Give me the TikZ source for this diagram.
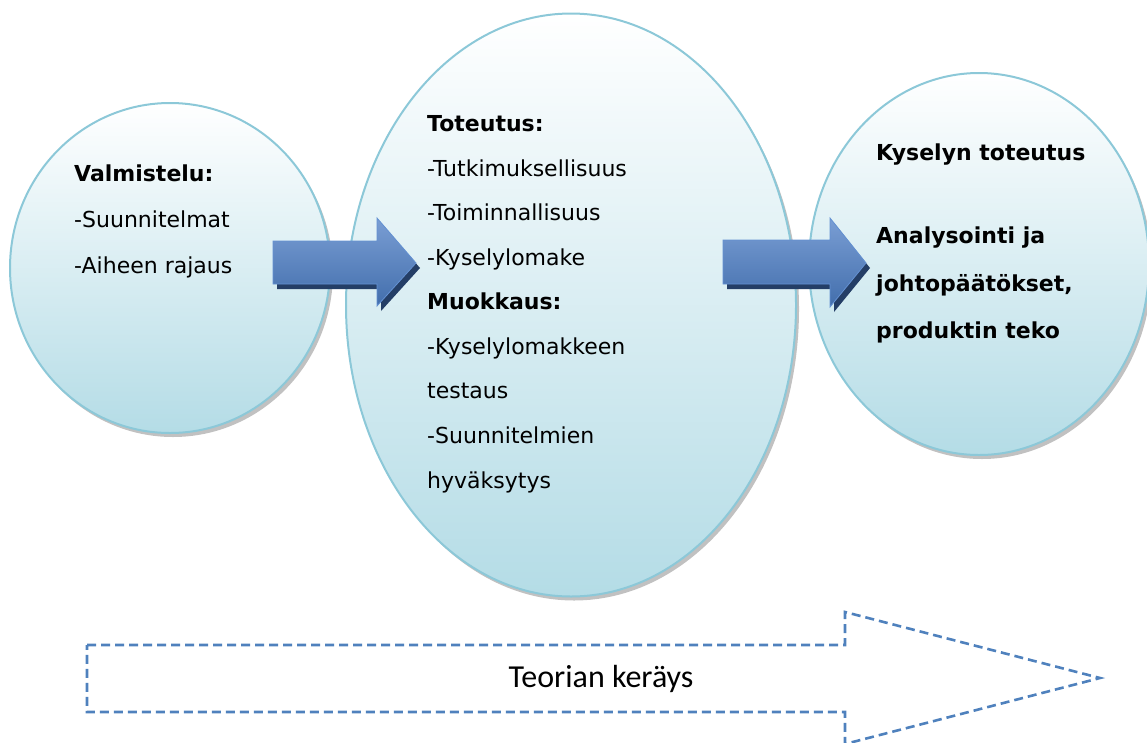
\documentclass[tikz,border=0pt]{standalone}
\usepackage{fontspec}
\setmainfont{DejaVu Sans}
\newfontfamily\calib{Carlito}
\usetikzlibrary{shapes.geometric,shadows}
\definecolor{ringc}{RGB}{140,200,216}
\definecolor{fillb}{RGB}{180,220,230}
\definecolor{fillm}{RGB}{222,239,244}
\definecolor{arrtop}{RGB}{122,158,212}
\definecolor{arrmid}{RGB}{80,128,192}
\definecolor{arrbot}{RGB}{66,110,172}
\definecolor{arrline}{RGB}{100,145,210}
\definecolor{arrshad}{RGB}{36,62,102}
\definecolor{dashc}{RGB}{79,129,189}
\begin{document}
\begin{tikzpicture}[x=1pt,y=-1pt,
  bubble/.style={ellipse, draw=ringc, line width=2pt, inner sep=0pt,
    top color=white, middle color=fillm, bottom color=fillb,
    drop shadow={shadow xshift=3pt, shadow yshift=-4pt, fill=gray!70, opacity=0.7}},
  txt/.style={anchor=base west, inner sep=0pt, font=\fontsize{22}{26}\selectfont},
  btxt/.style={txt, font=\fontsize{22}{26}\selectfont\bfseries},
  blockarrow/.style={top color=arrtop, middle color=arrmid, bottom color=arrbot, draw=arrline, line width=0.8pt},
  blockshadow/.style={fill=arrshad}
]
\useasboundingbox (0,0) rectangle (1147,742);
\clip (0,0) rectangle (1147,742);

% bubbles
\node[bubble, minimum width=320pt, minimum height=330pt] (left) at (170,268) {};
\node[bubble, minimum width=450pt, minimum height=583pt] (mid) at (571,305) {};
\node[bubble, minimum width=340pt, minimum height=382pt] (right) at (979,264) {};

% block arrows
\fill[blockshadow, shift={(4,5)}] (273,241) -- (377,241) -- (377,218) -- (416,263) -- (377,306) -- (377,284) -- (273,284) -- cycle;
\path[blockarrow] (273,241) -- (377,241) -- (377,218) -- (416,263) -- (377,306) -- (377,284) -- (273,284) -- cycle;
\fill[blockshadow, shift={(4,5)}] (723,240) -- (830,240) -- (830,218) -- (866,263) -- (830,307) -- (830,284) -- (723,284) -- cycle;
\path[blockarrow] (723,240) -- (830,240) -- (830,218) -- (866,263) -- (830,307) -- (830,284) -- (723,284) -- cycle;

% left text
\node[btxt] (l1) at (74,181) {Valmistelu:};
\node[txt] (l2) at (74,227) {-Suunnitelmat};
\node[txt] (l3) at (74,273) {-Aiheen rajaus};

% middle text
\node[btxt] (m1) at (427,131) {Toteutus:};
\node[txt] (m2) at (427,176) {-Tutkimuksellisuus};
\node[txt] (m3) at (427,220) {-Toiminnallisuus};
\node[txt] (m4) at (427,265) {-Kyselylomake};
\node[btxt] (m5) at (427,309) {Muokkaus:};
\node[txt] (m6) at (427,354) {-Kyselylomakkeen};
\node[txt] (m7) at (427,398) {testaus};
\node[txt] (m8) at (427,443) {-Suunnitelmien};
\node[txt] (m9) at (427,488) {hyväksytys};

% right text
\node[btxt] (r1) at (876,160) {Kyselyn toteutus};
\node[btxt] (r2) at (876,243) {Analysointi ja};
\node[btxt] (r3) at (876,291) {johtopäätökset,};
\node[btxt] (r4) at (876,338) {produktin teko};

% dashed arrow
\draw[dashc, line width=2.6pt, dash pattern=on 9pt off 5pt, line join=miter]
  (87,645) -- (845,645) -- (845,612) -- (1100,678) -- (845,744) -- (845,712) -- (87,712) -- cycle;
\node[anchor=base, inner sep=0pt, font=\calib\fontsize{32}{36}\selectfont] (teoria) at (601,687) {Teorian keräys};
\end{tikzpicture}
\end{document}
